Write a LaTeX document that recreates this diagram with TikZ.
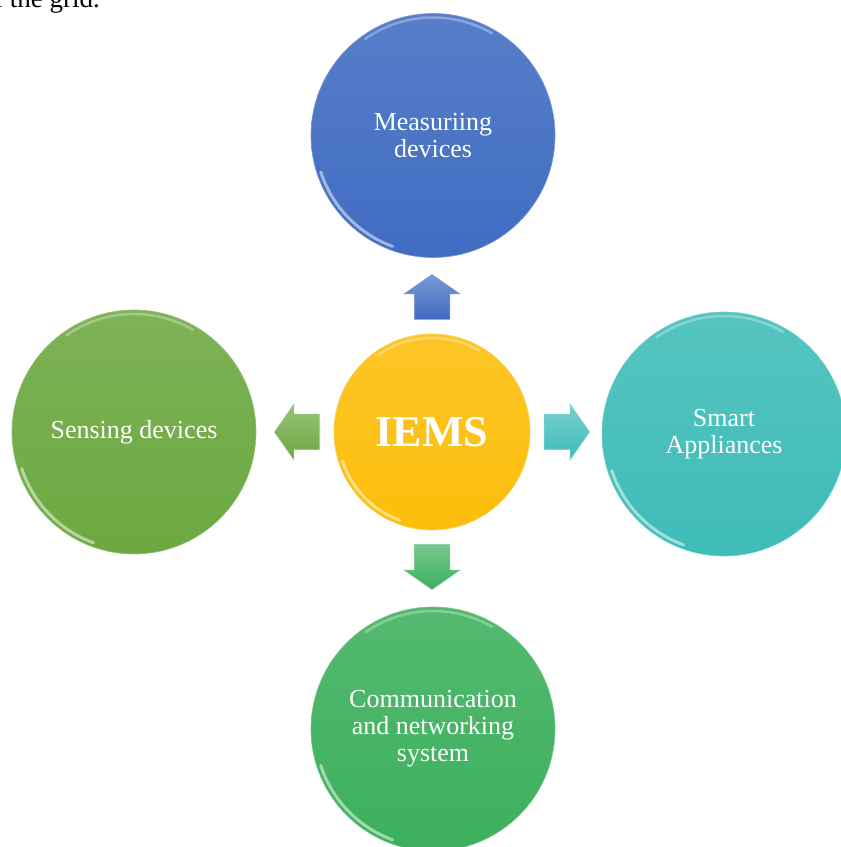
\documentclass[tikz,border=0pt]{standalone}
\usepackage{fontspec}
\setmainfont{Liberation Serif}
\usetikzlibrary{shapes.arrows,calc}
\definecolor{measBlue}{RGB}{64,108,194}
\definecolor{iemsGold}{RGB}{252,190,10}
\definecolor{sensGreen}{RGB}{108,168,64}
\definecolor{smartTeal}{RGB}{62,188,184}
\definecolor{commGreen}{RGB}{60,176,92}
\newcommand{\bubbleRadius}{122}
\newcommand{\arrowGap}{14}
\newcommand{\gloss}[2]{%
	\draw[white,opacity=0.5,line width=3pt,line cap=round] ($(#1)+(198:#2)$) arc (198:250:#2);
	\draw[white,opacity=0.3,line width=2.5pt,line cap=round] ($(#1)+(60:#2)$) arc (60:125:#2);
}

\begin{document}
\begin{tikzpicture}[x=1pt,y=1pt]
	\tikzset{
		bubble/.style={circle,inner sep=0pt,minimum size=2*\bubbleRadius pt,align=center,text=white,
			font=\fontsize{26}{27}\selectfont,draw=#1!70!white,line width=0.6pt,top color=#1!88!white,bottom color=#1},
		blockarrow/.style={single arrow,inner sep=0pt,minimum height=45pt,anchor=tail,
			single arrow head extend=10pt,single arrow tip angle=110,draw=#1!70!white,line width=0.5pt,
			top color=#1!70!white,bottom color=#1}
	}
	\useasboundingbox (0,0) rectangle (841,847);

	% leftover line of the page
	\node[anchor=base west,inner sep=0pt,font=\fontsize{27}{30}\selectfont] (pagetext) at (-6,839) {f the grid.};

	\node[bubble=iemsGold,minimum size=196pt,font=\fontsize{44}{48}\selectfont\bfseries] (IEMS) at (432,415) {IEMS};
	\node[bubble=measBlue] (MEAS) at (433,711.5) {Measuriing\\devices};
	\node[bubble=sensGreen] (SENS) at (134,415) {Sensing devices};
	\node[bubble=smartTeal] (SMART) at (724,413) {Smart\\Appliances};
	\node[bubble=commGreen] (COMM) at (433,118) {Communication\\and networking\\system};

	\gloss{IEMS}{94}
	\gloss{MEAS}{118}
	\gloss{SENS}{118}
	\gloss{SMART}{118}
	\gloss{COMM}{118}

	\node[blockarrow=measBlue,rotate=90] (toMEAS) at ($(IEMS.north)+(0,\arrowGap)$) {\rule{0pt}{35pt}};
	\node[blockarrow=sensGreen,rotate=180] (toSENS) at ($(IEMS.west)+(-\arrowGap,0)$) {\rule{0pt}{35pt}};
	\node[blockarrow=smartTeal] (toSMART) at ($(IEMS.east)+(\arrowGap,0)$) {\rule{0pt}{35pt}};
	\node[blockarrow=commGreen,rotate=270] (toCOMM) at ($(IEMS.south)+(0,-\arrowGap)$) {\rule{0pt}{35pt}};
\end{tikzpicture}
\end{document}
